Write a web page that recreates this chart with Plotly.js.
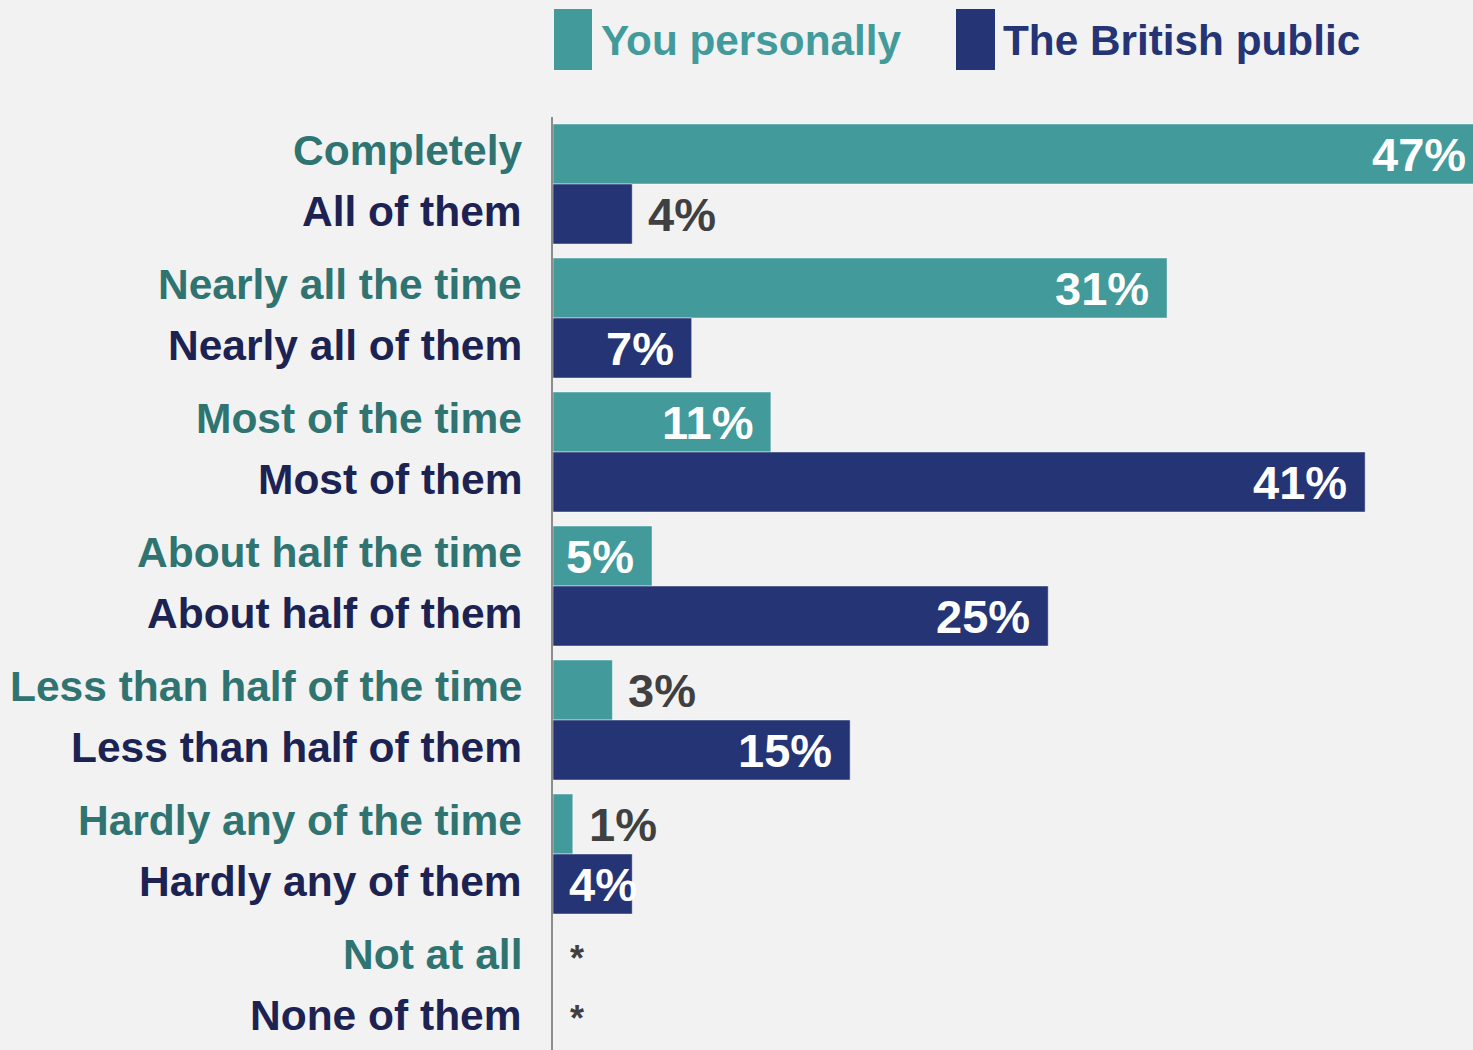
<!DOCTYPE html>
<html>
<head>
<meta charset="utf-8">
<script src="https://cdn.plot.ly/plotly-3.0.1.min.js"></script>
<style>
  html, body { margin: 0; padding: 0; background: #f2f2f2; overflow: hidden; width: 1473px; height: 1050px; }
  #chart { width: 1484px; height: 1055px; }
</style>
</head>
<body>
<div id="chart"></div>
<script>
// ---- data ----
const categories = ['Completely', 'Nearly all the time', 'Most of the time', 'About half the time',
                    'Less than half of the time', 'Hardly any of the time', 'Not at all'];
const publicCategories = ['All of them', 'Nearly all of them', 'Most of them', 'About half of them',
                          'Less than half of them', 'Hardly any of them', 'None of them'];
const personalValues = [47, 31, 11, 5, 3, 1, 0];
const publicValues = [4, 7, 41, 25, 15, 4, 0];
const seriesNames = ['You personally', 'The British public'];

// ---- styling ----
const FONT = 'Liberation Sans, Arial, Helvetica, sans-serif';
const TEAL = '#439a9b', NAVY = '#253474';
const TEAL_TXT = '#2f7471', NAVY_TXT = '#1c2352', GREY_TXT = '#404040';
const personalLabelPos = ['in', 'in', 'in', 'in', 'out', 'out', 'out'];
const publicLabelPos = ['out', 'in', 'in', 'in', 'in', 'inleft', 'out'];

const W = 1484, H = 1055, ML = 553, MT = 117;
const PW = W - ML, PH = H - MT;
const px2paperX = p => (p - ML) / PW;
const px2paperY = p => 1 - (p - MT) / PH;

const fmt = v => v > 0 ? v + '%' : '*';

const traces = [
  { type: 'bar', orientation: 'h', name: seriesNames[0], y: categories, x: personalValues,
    marker: { color: TEAL, line: { color: 'rgba(255,255,255,0.45)', width: 1 } },
    hoverinfo: 'x+y' },
  { type: 'bar', orientation: 'h', name: seriesNames[1], y: categories, x: publicValues,
    marker: { color: NAVY, line: { color: 'rgba(255,255,255,0.45)', width: 1 } },
    hoverinfo: 'x+y' }
];

const annotations = [];
function valueLabel(v, cat, pos, shiftY) {
  const a = { x: v, y: cat, xref: 'x', yref: 'y', text: '<b>' + fmt(v) + '</b>', showarrow: false,
              yshift: shiftY, yanchor: 'middle', font: { family: FONT, size: 47 } };
  if (pos === 'in') { a.xanchor = 'right'; a.xshift = -16; a.font.color = '#ffffff'; }
  else if (pos === 'inleft') { a.x = 0; a.xanchor = 'left'; a.xshift = 14; a.font.color = '#ffffff'; }
  else { a.xanchor = 'left'; a.xshift = v > 0 ? 14 : 15; a.font.color = GREY_TXT; a.font.size = v > 0 ? 47 : 36; }
  annotations.push(a);
}
categories.forEach((c, i) => {
  valueLabel(personalValues[i], c, personalLabelPos[i], 30);
  valueLabel(publicValues[i], c, publicLabelPos[i], -30);
  annotations.push({ x: 0, xref: 'paper', y: c, yref: 'y', text: '<b>' + c + '</b>', showarrow: false,
    xanchor: 'right', xshift: -29, yshift: 34, font: { family: FONT, size: 42.5, color: TEAL_TXT } });
  annotations.push({ x: 0, xref: 'paper', y: c, yref: 'y', text: '<b>' + publicCategories[i] + '</b>', showarrow: false,
    xanchor: 'right', xshift: -29, yshift: -27, font: { family: FONT, size: 42.5, color: NAVY_TXT } });
});

// legend
const legendItems = [
  { name: seriesNames[0], color: TEAL, boxL: 554, boxR: 592, textL: 599 },
  { name: seriesNames[1], color: NAVY, boxL: 956, boxR: 995, textL: 1001 }
];
const shapes = legendItems.map(it => ({
  type: 'rect', xref: 'paper', yref: 'paper',
  x0: px2paperX(it.boxL), x1: px2paperX(it.boxR), y0: px2paperY(70), y1: px2paperY(9),
  fillcolor: it.color, line: { width: 0 }
}));
legendItems.forEach(it => annotations.push({
  x: px2paperX(it.textL), y: px2paperY(41), xref: 'paper', yref: 'paper', xanchor: 'left', yanchor: 'middle',
  text: '<b>' + it.name + '</b>', showarrow: false, font: { family: FONT, size: 42.3, color: it.color }
}));

const layout = {
  width: W, height: H,
  margin: { l: ML, r: 0, t: MT, b: 0, pad: 0 },
  paper_bgcolor: '#f2f2f2', plot_bgcolor: '#f2f2f2',
  barmode: 'group', bargap: 0.1045, bargroupgap: 0,
  showlegend: false,
  xaxis: { range: [0, 47], showgrid: false, zeroline: false, showticklabels: false, showline: false, ticks: '' },
  yaxis: { autorange: 'reversed', showticklabels: false, showgrid: false, zeroline: false, ticks: '',
           showline: true, linecolor: '#8c8c8c', linewidth: 2 },
  annotations: annotations,
  shapes: shapes,
  font: { family: FONT }
};

Plotly.newPlot('chart', traces, layout, { displayModeBar: false, staticPlot: true });
</script>
</body>
</html>
